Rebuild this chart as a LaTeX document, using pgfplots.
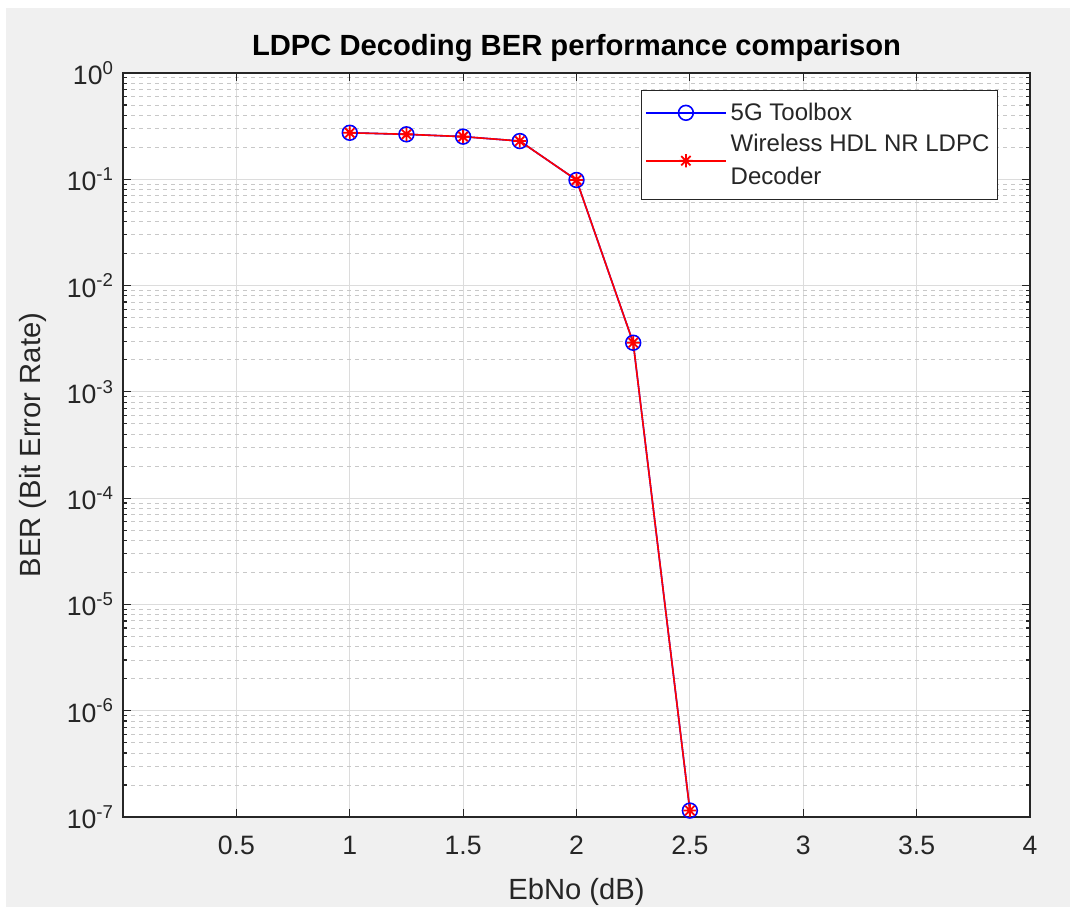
\documentclass[border=0pt]{standalone}
\usepackage{pgfplots}
\pgfplotsset{compat=1.18}
\usepackage{fontspec}
\setmainfont{Liberation Sans}
\definecolor{figbg}{HTML}{F0F0F0}
\definecolor{axcol}{HTML}{262626}
\definecolor{gridcol}{HTML}{DCDCDC}
\definecolor{minorcol}{HTML}{C8C8C8}
\definecolor{mblue}{HTML}{0000FF}
\definecolor{mred}{HTML}{FF0000}

% eight-pointed asterisk (plus and cross overlaid)
\pgfdeclareplotmark{mstar}{%
  \pgfpathmoveto{\pgfqpoint{-\pgfplotmarksize}{0pt}}%
  \pgfpathlineto{\pgfqpoint{\pgfplotmarksize}{0pt}}%
  \pgfpathmoveto{\pgfqpoint{0pt}{-\pgfplotmarksize}}%
  \pgfpathlineto{\pgfqpoint{0pt}{\pgfplotmarksize}}%
  \pgfpathmoveto{\pgfqpoint{-.7071\pgfplotmarksize}{-.7071\pgfplotmarksize}}%
  \pgfpathlineto{\pgfqpoint{.7071\pgfplotmarksize}{.7071\pgfplotmarksize}}%
  \pgfpathmoveto{\pgfqpoint{-.7071\pgfplotmarksize}{.7071\pgfplotmarksize}}%
  \pgfpathlineto{\pgfqpoint{.7071\pgfplotmarksize}{-.7071\pgfplotmarksize}}%
  \pgfusepathqstroke}

\pgfplotstableread{
ebno ber
1.00 0.274
1.25 0.265
1.50 0.252
1.75 0.229
2.00 0.0985
2.25 0.0029
2.50 1.15e-7
}\toolboxdata

\pgfplotstableread{
ebno ber
1.00 0.274
1.25 0.265
1.50 0.252
1.75 0.229
2.00 0.0985
2.25 0.0029
2.50 1.15e-7
}\hdldata

\begin{document}
\begin{tikzpicture}[x=0.5pt,y=0.5pt]
\fill[white] (0,0) rectangle (1070,907);
\fill[figbg] (6,0) rectangle (1070,899);
\begin{axis}[
  at={(61.5pt,45pt)}, anchor=south west,
  scale only axis, width=453.5pt, height=372pt,
  axis background/.style={fill=white},
  xmin=0, xmax=4,
  ymode=log, ymin=1e-7, ymax=1,
  xtick={0.5,1,1.5,2,2.5,3,3.5,4},
  xticklabels={0.5,1,1.5,2,2.5,3,3.5,4},
  ytick={1e-7,1e-6,1e-5,1e-4,1e-3,1e-2,1e-1,1},
  yticklabels={10\textsuperscript{-7},10\textsuperscript{-6},10\textsuperscript{-5},10\textsuperscript{-4},10\textsuperscript{-3},10\textsuperscript{-2},10\textsuperscript{-1},10\textsuperscript{0}},
  minor ytick={2e-7,3e-7,4e-7,5e-7,6e-7,7e-7,8e-7,9e-7,
               2e-6,3e-6,4e-6,5e-6,6e-6,7e-6,8e-6,9e-6,
               2e-5,3e-5,4e-5,5e-5,6e-5,7e-5,8e-5,9e-5,
               2e-4,3e-4,4e-4,5e-4,6e-4,7e-4,8e-4,9e-4,
               2e-3,3e-3,4e-3,5e-3,6e-3,7e-3,8e-3,9e-3,
               2e-2,3e-2,4e-2,5e-2,6e-2,7e-2,8e-2,9e-2,
               0.2,0.3,0.4,0.5,0.6,0.7,0.8,0.9},
  grid=both,
  major grid style={gridcol, line width=0.5pt},
  minor grid style={minorcol, line width=0.5pt, dash pattern=on 2pt off 2pt},
  tick align=inside, tick pos=both,
  major tick length=4pt, minor tick length=2pt,
  axis line style={axcol, line width=0.6pt},
  every tick/.style={axcol, line width=0.6pt},
  ticklabel style={font=\fontsize{13.3}{16}\selectfont, text=axcol},
  xticklabel style={yshift=-6pt},
  yticklabel style={xshift=-1pt},
  xlabel={EbNo (dB)}, ylabel={BER (Bit Error Rate)},
  label style={font=\fontsize{14.6}{17}\selectfont, text=axcol},
  xlabel style={yshift=-5pt},
  ylabel style={yshift=3.5pt},
  title={LDPC Decoding BER performance comparison},
  title style={font=\bfseries\fontsize{14.6}{17}\selectfont, text=black, yshift=-4pt},
  clip=false,
  legend cell align=left,
  legend style={at={(1,1)}, anchor=north east, xshift=-16pt, yshift=-8.5pt,
    draw=axcol, line width=0.6pt, fill=white,
    font=\fontsize{12}{16.5}\selectfont,
    nodes={align=left, text=axcol},
    row sep=1.5pt,
    inner xsep=2pt, inner ysep=4pt},
  legend image code/.code={%
    \draw[mark repeat=2, mark phase=2, #1]
      plot coordinates {(0pt,0pt) (20pt,0pt) (40pt,0pt)};},
]
\addplot[mblue, line width=0.8pt, mark=o, mark size=3.7pt,
  mark options={line width=0.8pt}] table[x=ebno, y=ber] {\toolboxdata};
\addlegendentry{5G Toolbox}
\addplot[mred, line width=0.8pt, mark=mstar, mark size=3.3pt,
  mark options={line width=0.9pt}] table[x=ebno, y=ber] {\hdldata};
\addlegendentry{Wireless HDL NR LDPC\\Decoder}
\end{axis}
\end{tikzpicture}
\end{document}
